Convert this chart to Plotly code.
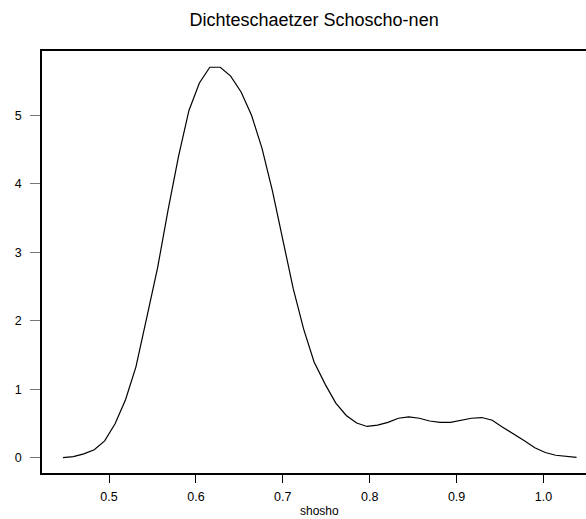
import plotly.graph_objects as go

# density estimate grid
x_vals = [0.447, 0.459, 0.471, 0.483, 0.495, 0.507, 0.519, 0.531, 0.544, 0.556,
          0.568, 0.580, 0.592, 0.604, 0.616, 0.628, 0.640, 0.652, 0.664, 0.676,
          0.688, 0.700, 0.712, 0.724, 0.736, 0.749, 0.761, 0.773, 0.785, 0.797,
          0.809, 0.821, 0.833, 0.845, 0.857, 0.869, 0.881, 0.893, 0.905, 0.917,
          0.929, 0.941, 0.953, 0.966, 0.978, 0.990, 1.002, 1.014, 1.026, 1.038]
density = [0.005, 0.02, 0.06, 0.12, 0.25, 0.50, 0.85, 1.33, 2.08, 2.78,
           3.62, 4.40, 5.07, 5.47, 5.70, 5.70, 5.57, 5.34, 5.00, 4.52,
           3.90, 3.20, 2.47, 1.88, 1.40, 1.07, 0.80, 0.62, 0.51, 0.46,
           0.48, 0.52, 0.58, 0.60, 0.58, 0.54, 0.52, 0.52, 0.55, 0.58,
           0.59, 0.55, 0.45, 0.35, 0.25, 0.15, 0.08, 0.04, 0.02, 0.01]

x_ticks = [0.5, 0.6, 0.7, 0.8, 0.9, 1.0]
x_tick_labels = ["0.5", "0.6", "0.7", "0.8", "0.9", "1.0"]
y_ticks = [0, 1, 2, 3, 4, 5]
y_tick_labels = ["0", "1", "2", "3", "4", "5"]

title_text = "Dichteschaetzer Schoscho-nen"
x_title = "shosho"

FONT = "Liberation Sans, Arial, Helvetica, sans-serif"

fig = go.Figure()
fig.add_trace(go.Scatter(
    x=x_vals, y=density, mode="lines",
    line=dict(color="black", width=1.2),
    showlegend=False, hoverinfo="skip"))

fig.update_layout(
    width=586, height=519,
    margin=dict(l=42, r=0, t=51, b=46, autoexpand=False),
    paper_bgcolor="white", plot_bgcolor="white",
    font=dict(family=FONT, color="black", size=12),
    title=dict(text=title_text, x=0.536, xanchor="center",
               y=1 - 20 / 519, yanchor="middle",
               font=dict(family=FONT, size=18, color="black")),
    xaxis=dict(
        range=[0.4229, 1.0489], tickmode="array",
        tickvals=x_ticks, ticktext=x_tick_labels,
        showgrid=False, zeroline=False, automargin=False,
        showline=True, linecolor="black", linewidth=1.5, mirror=True,
        ticks="outside", ticklen=8, tickcolor="black", tickwidth=1.2,
        tickfont=dict(family=FONT, size=12.5, color="black"),
        ticklabelstandoff=3,
    ),
    yaxis=dict(
        range=[-0.219, 5.937], tickmode="array",
        tickvals=y_ticks, ticktext=y_tick_labels,
        showgrid=False, zeroline=False, automargin=False,
        showline=True, linecolor="black", linewidth=1.5, mirror=False,
        ticks="outside", ticklen=10, tickcolor="#777777", tickwidth=1.2,
        tickfont=dict(family=FONT, size=12.5, color="black"),
        ticklabelstandoff=6,
    ),
    annotations=[dict(
        text=x_title, xref="paper", yref="paper", x=0.511, y=0,
        xanchor="center", yanchor="middle", yshift=-38, showarrow=False,
        borderpad=0,
        font=dict(family=FONT, size=12, color="black"))],
)

fig.write_html("out.html")
